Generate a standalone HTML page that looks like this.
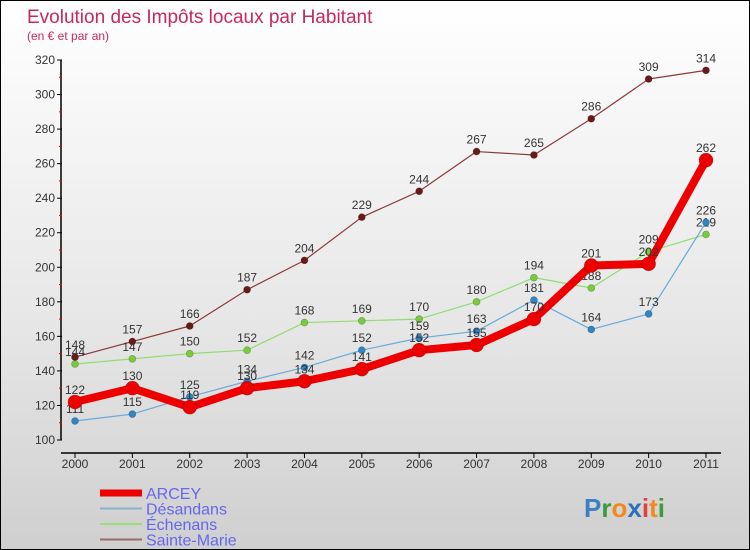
<!DOCTYPE html>
<html><head><meta charset="utf-8"><style>
body{margin:0}
#c{position:relative;width:748px;height:548px;border:1px solid #000;background:linear-gradient(#fff 0%,#e6e6e6 60%,#cfcfcf 100%);overflow:hidden;font-family:"Liberation Sans",sans-serif}
</style></head><body>
<div id="c">
<svg id="s" width="748" height="548"></svg>
</div>
<script>
const years=["2000","2001","2002","2003","2004","2005","2006","2007","2008","2009","2010","2011"];
const arcey=[122,130,119,130,134,141,152,155,170,201,202,262];
const desandans=[111,115,125,134,142,152,159,163,181,164,173,226];
const echenans=[144,147,150,152,168,169,170,180,194,188,209,219];
const sainteMarie=[148,157,166,187,204,229,244,267,265,286,309,314];
const yTicks=[100,120,140,160,180,200,220,240,260,280,300,320];
const seriesNames=["ARCEY","Désandans","Échenans","Sainte-Marie"];

const NS="http://www.w3.org/2000/svg",s=document.getElementById("s");
const X=i=>74+i*(631/11), Y=v=>439-(v-100)*(380/220);
function el(t,a,p){const e=document.createElementNS(NS,t);for(const k in a)e.setAttribute(k,a[k]);(p||s).appendChild(e);return e;}
function tx(x,y,str,a){const e=el("text",Object.assign({x:x,y:y},a));e.textContent=str;return e;}

const title=tx(26,22,"Evolution des Impôts locaux par Habitant",{"font-size":19,fill:"#c8285a"});


const sub=tx(26,39,"(en € et par an)",{"font-size":12,fill:"#c8285a"});



const ya=el("line",{x1:60,y1:Y(320),x2:60,y2:Y(100),stroke:"#000","stroke-width":1.5});


const xa=el("line",{x1:60,y1:452,x2:720,y2:452,stroke:"#000","stroke-width":1.5});


yTicks.forEach(v=>{
  el("line",{x1:56,y1:Y(v),x2:61,y2:Y(v),stroke:"#000"});
  if(v<320) el("line",{x1:58,y1:Y(v+10),x2:61,y2:Y(v+10),stroke:"#e00"});
  const t=tx(54,Y(v)+4,String(v),{"font-size":12,fill:"#333","text-anchor":"end"});
  
  
});
years.forEach((y,i)=>{
  el("line",{x1:X(i),y1:452,x2:X(i),y2:457,stroke:"#000"});
  const t=tx(X(i),467,y,{"font-size":12,fill:"#333","text-anchor":"middle"});
  
  
});

function series(data,color,w,r,name,dot){
  const g=el("g",{});
  
  
  el("polyline",{points:data.map((v,i)=>X(i)+","+Y(v)).join(" "),fill:"none",stroke:color,"stroke-width":w,"stroke-linejoin":"round"},g);
  data.forEach((v,i)=>{
    const c=el("circle",{cx:X(i),cy:Y(v),r:r,fill:dot,stroke:"rgba(0,0,0,0.3)","stroke-width":0.6},g);
    
    
    const t=tx(X(i),Y(v)-8,String(v),{"font-size":12,fill:"#333","text-anchor":"middle"},g);
    
    
  });
}
series(sainteMarie,"#8b3a3a",1.2,3.5,"series-sainte-marie","#6b1818");
series(echenans,"#90dd70",1.2,3.5,"series-echenans","#77cc3a");
series(desandans,"#6aaad8",1.2,3.5,"series-desandans","#2e86c8");
series(arcey,"#ee0000",8,7,"series-arcey","#ee0000");

const lc=["#ee0000","#8ab0cc","#99dd77","#9a6a6a"],lw=[7,2,2,2];
seriesNames.forEach((n,i)=>{
  const y=492+i*15.5;
  const g=el("g",{});
  
  
  el("line",{x1:99,y1:y,x2:141,y2:y,stroke:lc[i],"stroke-width":lw[i]},g);
  tx(145,y+6,n,{"font-size":16,fill:"#6666ee"},g);
});
const lg=el("text",{x:583,y:516,"font-size":26,"font-weight":"bold"});


[["P","#3b7fc4"],["r","#3b9a3b"],["o","#f08a1c"],["x","#2a6fc0"],["i","#e04040"],["t","#f08a1c"],["i","#3b9a3b"]].forEach(([c,f])=>{const t=el("tspan",{fill:f},lg);t.textContent=c;});
</script>
</body></html>
